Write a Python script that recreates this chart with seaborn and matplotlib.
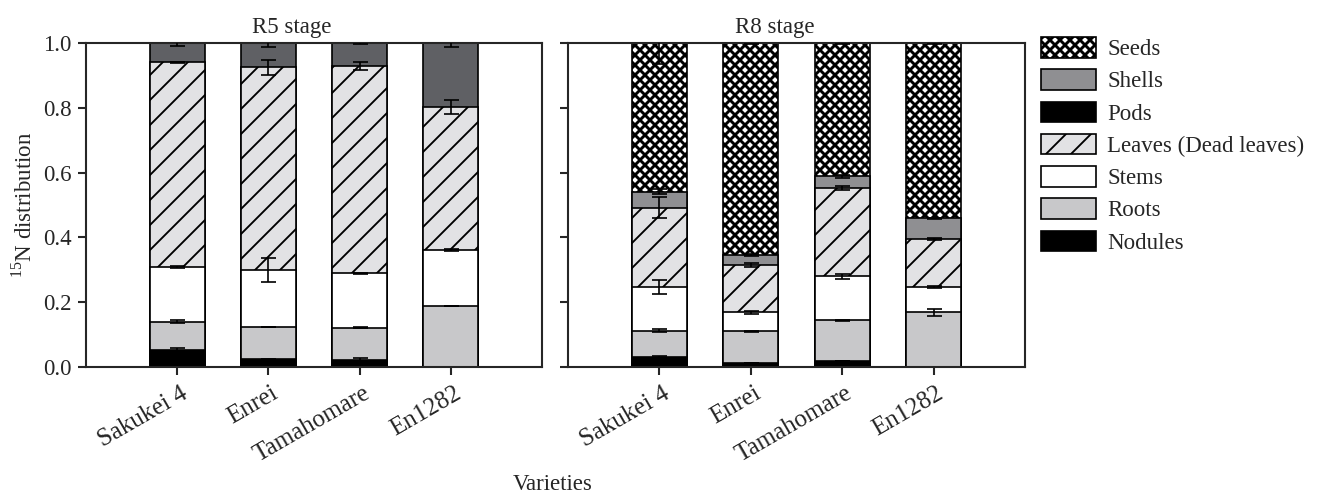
import numpy as np
import seaborn as sns
import matplotlib.pyplot as plt
import matplotlib.transforms as mtransforms
from matplotlib.patches import Patch

varieties = ["Sakukei 4", "Enrei", "Tamahomare", "En1282"]

# R5 stage, fraction of 15N per organ (bottom to top)
r5_nodules = [0.052, 0.024, 0.022, 0.0]
r5_roots = [0.088, 0.100, 0.099, 0.188]
r5_stems = [0.169, 0.174, 0.168, 0.173]
r5_leaves = [0.631, 0.627, 0.641, 0.441]
r5_pods = [0.060, 0.075, 0.070, 0.198]

# R5 error bars (at the top of each segment)
r5_err_nodules = [0.007, 0.001, 0.007, 0.0]
r5_err_roots = [0.004, 0.001, 0.002, 0.001]
r5_err_stems = [0.002, 0.037, 0.001, 0.004]
r5_err_leaves = [0.001, 0.024, 0.012, 0.021]
r5_err_pods = [0.010, 0.012, 0.002, 0.012]

# R8 stage
r8_nodules = [0.030, 0.012, 0.018, 0.0]
r8_roots = [0.082, 0.098, 0.126, 0.169]
r8_stems = [0.134, 0.059, 0.136, 0.078]
r8_leaves = [0.246, 0.147, 0.272, 0.147]
r8_shells = [0.049, 0.029, 0.036, 0.065]
r8_seeds = [0.459, 0.655, 0.412, 0.541]

r8_err_nodules = [0.003, 0.001, 0.001, 0.0]
r8_err_roots = [0.005, 0.002, 0.002, 0.011]
r8_err_stems = [0.021, 0.004, 0.008, 0.002]
r8_err_leaves = [0.033, 0.006, 0.007, 0.003]
r8_err_shells = [0.008, 0.003, 0.006, 0.002]
r8_err_seeds = [0.065, 0.002, 0.003, 0.003]

legend_labels = ["Seeds", "Shells", "Pods", "Leaves (Dead leaves)", "Stems", "Roots", "Nodules"]

sns.set_style("ticks")
plt.rcParams["font.family"] = ["Liberation Serif", "DejaVu Serif"]
plt.rcParams["mathtext.fontset"] = "custom"
plt.rcParams["mathtext.rm"] = "Liberation Serif"
plt.rcParams["hatch.linewidth"] = 0.9
plt.rcParams["axes.linewidth"] = 1.0

FS = 11
SEED_HATCH = "xxxxx"
LEAF_HATCH = "//"
SEED_HATCH_LW = 1.4


def thicken_seed_hatch(patches):
    for p in patches:
        if p.get_hatch() == SEED_HATCH and hasattr(p, "set_hatch_linewidth"):
            p.set_hatch_linewidth(SEED_HATCH_LW)


def draw_stage(ax, parts, title, show_ylabels):
    """
        Draws one stacked bar panel: parts is a list of (values, errors, color, hatch), bottom to top.
    """
    tops = np.cumsum([p[0] for p in parts], axis=0)
    # draw the tallest stack first so lower segments sit on top of it
    for i in range(len(parts) - 1, -1, -1):
        vals, errs, color, hatch = parts[i]
        lw = SEED_HATCH_LW if hatch == SEED_HATCH else 0.9
        with plt.rc_context({"hatch.linewidth": lw}):
            sns.barplot(x=varieties, y=tops[i], color=color, saturation=1, width=0.6,
                        edgecolor="black", linewidth=0.8, hatch=hatch, errorbar=None, ax=ax)
    thicken_seed_hatch(ax.patches)

    for i, (vals, errs, color, hatch) in enumerate(parts):
        idx = [k for k in range(len(varieties)) if errs[k] > 0]
        ax.errorbar(x=idx, y=tops[i][idx], yerr=np.array(errs)[idx], fmt="none",
                    ecolor="black", elinewidth=0.8, capsize=3.6, capthick=0.8, zorder=10)

    ax.set_xlim(-1, 4)
    ax.set_ylim(0, 1.0)
    ax.set_yticks([0, 0.2, 0.4, 0.6, 0.8, 1.0])
    ax.set_title(title, fontsize=FS, x=0.452, pad=5)
    ax.set_xlabel("")
    ax.set_ylabel("")
    ax.tick_params(direction="out", length=4, width=1.0, labelsize=FS, pad=3)
    ax.set_xticks(range(len(varieties)))
    ax.set_xticklabels(varieties, rotation=30, ha="right", va="center",
                       rotation_mode="anchor", fontsize=12)
    shift = mtransforms.ScaledTranslation(4 / 72, -5 / 72, ax.figure.dpi_scale_trans)
    for lab in ax.get_xticklabels():
        lab.set_transform(lab.get_transform() + shift)
    if show_ylabels:
        ax.set_yticklabels(["0.0", "0.2", "0.4", "0.6", "0.8", "1.0"])
    else:
        ax.tick_params(labelleft=False)
    for s in ax.spines.values():
        s.set_visible(True)
        s.set_linewidth(1.0)


fig = plt.figure(figsize=(1322 / 150, 497 / 150), dpi=150)
ax1 = fig.add_axes([86 / 1322, 130 / 497, 456 / 1322, 324 / 497])
ax2 = fig.add_axes([568 / 1322, 130 / 497, 457 / 1322, 324 / 497])

c_black = "#000000"
c_roots = "#c8c8ca"
c_stems = "#ffffff"
c_leaves = "#e2e2e4"
c_shells = "#8f8f92"
c_pods = "#5f6064"
c_seeds = "#ffffff"

r5_parts = [
    (r5_nodules, r5_err_nodules, c_black, None),
    (r5_roots, r5_err_roots, c_roots, None),
    (r5_stems, r5_err_stems, c_stems, None),
    (r5_leaves, r5_err_leaves, c_leaves, LEAF_HATCH),
    (r5_pods, r5_err_pods, c_pods, None),
]
r8_parts = [
    (r8_nodules, r8_err_nodules, c_black, None),
    (r8_roots, r8_err_roots, c_roots, None),
    (r8_stems, r8_err_stems, c_stems, None),
    (r8_leaves, r8_err_leaves, c_leaves, LEAF_HATCH),
    (r8_shells, r8_err_shells, c_shells, None),
    (r8_seeds, r8_err_seeds, c_seeds, SEED_HATCH),
]

draw_stage(ax1, r5_parts, "R5 stage", True)
draw_stage(ax2, r8_parts, "R8 stage", False)

ax1.set_ylabel(r"$^{15}$N distribution", fontsize=FS, labelpad=3)
fig.text(553 / 1322, 1 - 485 / 497, "Varieties", ha="center", va="center", fontsize=FS)

legend_styles = [(c_seeds, SEED_HATCH), (c_shells, None), (c_black, None), (c_leaves, LEAF_HATCH),
                 (c_stems, None), (c_roots, None), (c_black, None)]
with plt.rc_context({"hatch.linewidth": SEED_HATCH_LW}):
    seed_handle = Patch(facecolor=c_seeds, edgecolor="black", linewidth=0.8, hatch=SEED_HATCH)
handles = [seed_handle] + [Patch(facecolor=c, edgecolor="black", linewidth=0.8, hatch=h)
                           for c, h in legend_styles[1:]]
leg = fig.legend(handles, legend_labels, loc="upper left", bbox_to_anchor=(1041 / 1322, 1 - 37 / 497),
                 frameon=False, fontsize=FS, handlelength=2.4, handleheight=1.0,
                 handletextpad=0.5, labelspacing=0.4, borderpad=0, borderaxespad=0)
thicken_seed_hatch(leg.get_patches())

fig.savefig("out.png", dpi=150)
